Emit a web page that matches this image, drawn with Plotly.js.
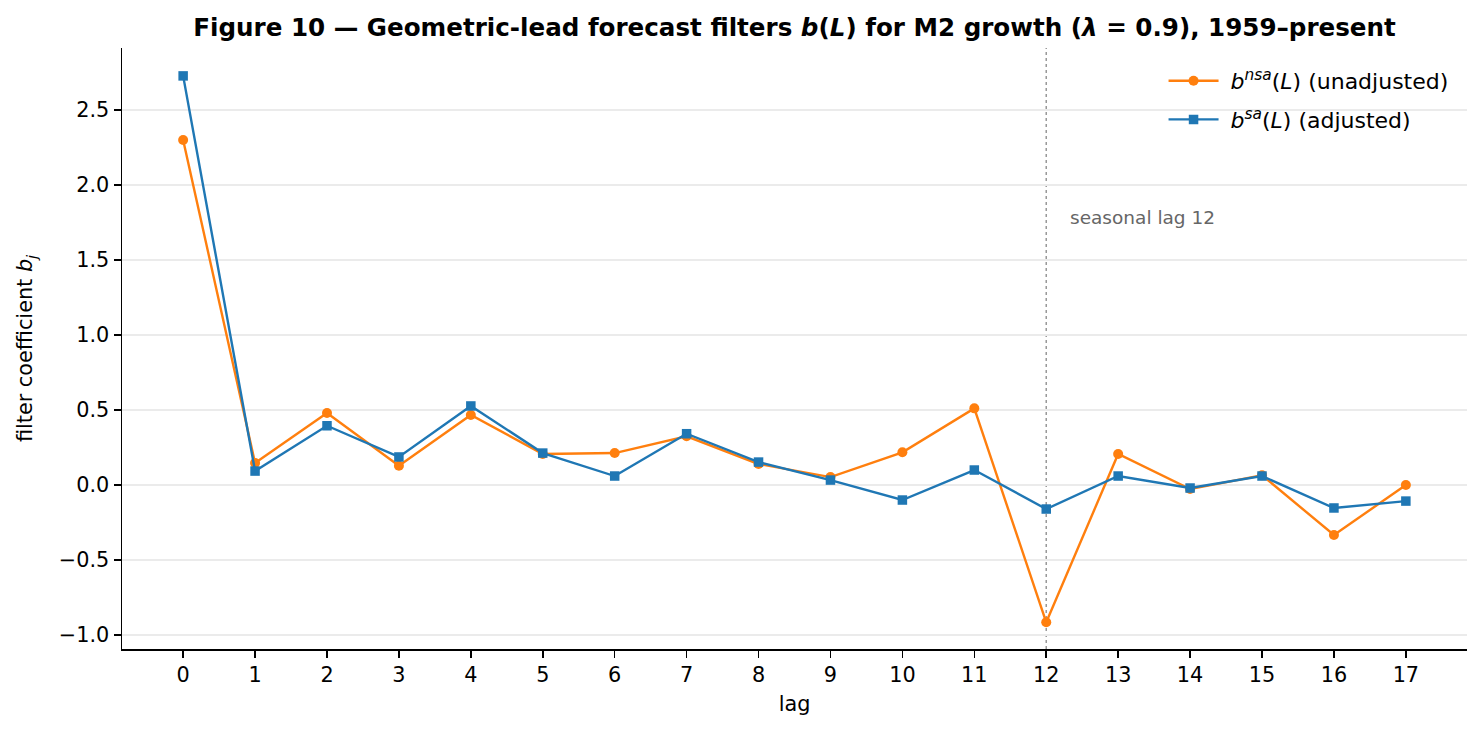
<!DOCTYPE html>
<html>
<head>
<meta charset="utf-8">
<script src="https://cdn.plot.ly/plotly-3.0.1.min.js"></script>
<style>
  html, body { margin: 0; padding: 0; background: #fff; }
  #graph { width: 1482px; height: 733px; }
</style>
</head>
<body>
<div id="graph"></div>
<script>
// lags 0..17
const lags = [0, 1, 2, 3, 4, 5, 6, 7, 8, 9, 10, 11, 12, 13, 14, 15, 16, 17];

// b^nsa(L), unadjusted M2 growth
const bNsa = [2.30, 0.147, 0.48, 0.128, 0.467, 0.207, 0.213, 0.325, 0.14, 0.053,
              0.218, 0.511, -0.915, 0.207, -0.027, 0.065, -0.333, 0.0];

// b^sa(L), seasonally adjusted
const bSa = [2.727, 0.093, 0.395, 0.187, 0.527, 0.213, 0.06, 0.342, 0.153, 0.033,
             -0.10, 0.10, -0.16, 0.06, -0.02, 0.06, -0.153, -0.107];

const seasonalLag = 12;

const FONT = "DejaVu Sans, Verdana, sans-serif";

function initPlot() {
    const traces = [
        {
            name: "&nbsp;<i>b</i><sup><i>nsa</i></sup>(<i>L</i>) (unadjusted)",
            legendgroup: 'nsa',
            x: lags,
            y: bNsa,
            mode: 'lines+markers',
            line: { color: '#ff7f0e', width: 2.4 },
            marker: { symbol: 'circle', size: 10, color: '#ff7f0e' },
        },
        {
            name: "&nbsp;<i>b</i><sup><i>sa</i></sup>(<i>L</i>) (adjusted)",
            legendgroup: 'sa',
            x: lags,
            y: bSa,
            mode: 'lines+markers',
            line: { color: '#1f77b4', width: 2.4 },
            marker: { symbol: 'square', size: 9.5, color: '#1f77b4' },
        },
    ];

    const layout = {
        width: 1482,
        height: 733,
        paper_bgcolor: '#fff',
        plot_bgcolor: '#fff',
        font: { family: FONT, size: 20.8, color: '#000' },
        margin: { l: 122, r: 15, t: 48, b: 84, autoexpand: false },
        title: {
            text: "<b>Figure 10 — Geometric-lead forecast filters <i>b</i>(<i>L</i>) for M2 growth (<i>λ</i> = 0.9), 1959–present</b>",
            font: { family: FONT, size: 24.6, color: '#000' },
            xref: 'paper',
            x: 0.5,
            xanchor: 'center',
            y: 0.962,
            yanchor: 'middle',
        },
        xaxis: {
            range: [-0.85, 17.85],
            tickmode: 'array',
            tickvals: lags,
            ticktext: lags.map(String),
            ticks: 'outside',
            ticklen: 7,
            tickwidth: 1.5,
            tickcolor: '#000',
            showgrid: false,
            zeroline: false,
            showline: true,
            linecolor: '#000',
            linewidth: 1.5,
            mirror: false,
            title: { text: 'lag', font: { size: 20.8 }, standoff: 10 },
        },
        yaxis: {
            range: [-1.093, 2.913],
            tickmode: 'array',
            tickvals: [-1.0, -0.5, 0.0, 0.5, 1.0, 1.5, 2.0, 2.5],
            ticktext: ['\u22121.0', '\u22120.5', '0.0', '0.5', '1.0', '1.5', '2.0', '2.5'],
            ticks: 'outside',
            ticklen: 7,
            tickwidth: 1.5,
            tickcolor: '#000',
            showgrid: true,
            gridcolor: '#ebebeb',
            gridwidth: 1.2,
            zeroline: false,
            showline: true,
            linecolor: '#000',
            linewidth: 1.5,
            title: { text: 'filter coefficient <i>b</i><sub><i>j</i></sub>', font: { size: 20.8 }, standoff: 20 },
        },
        showlegend: true,
        legend: {
            x: 0.99,
            xanchor: 'right',
            y: 0.98,
            yanchor: 'top',
            bgcolor: 'rgba(255,255,255,0)',
            borderwidth: 0,
            font: { size: 22 },
            traceorder: 'grouped',
            tracegroupgap: 7,
            itemwidth: 50,
        },
        shapes: [
            {
                type: 'line', xref: 'paper', x0: 0, x1: 1, yref: 'y', y0: 0, y1: 0,
                line: { color: '#000', width: 1.1 }, layer: 'below',
            },
            {
                type: 'line', xref: 'x', x0: seasonalLag, x1: seasonalLag, yref: 'paper', y0: 0, y1: 1,
                line: { color: '#999', width: 1.5, dash: 'dot' }, layer: 'below',
            },
        ],
        annotations: [
            {
                x: seasonalLag + 0.3, y: 1.78, xref: 'x', yref: 'y',
                text: 'seasonal lag 12', showarrow: false,
                xanchor: 'left', yanchor: 'middle',
                font: { family: FONT, size: 18.5, color: '#666' },
            },
        ],
    };

    const config = { displaylogo: false, displayModeBar: false, staticPlot: true };
    Plotly.newPlot('graph', traces, layout, config);
}

document.addEventListener('DOMContentLoaded', initPlot);
</script>
</body>
</html>
